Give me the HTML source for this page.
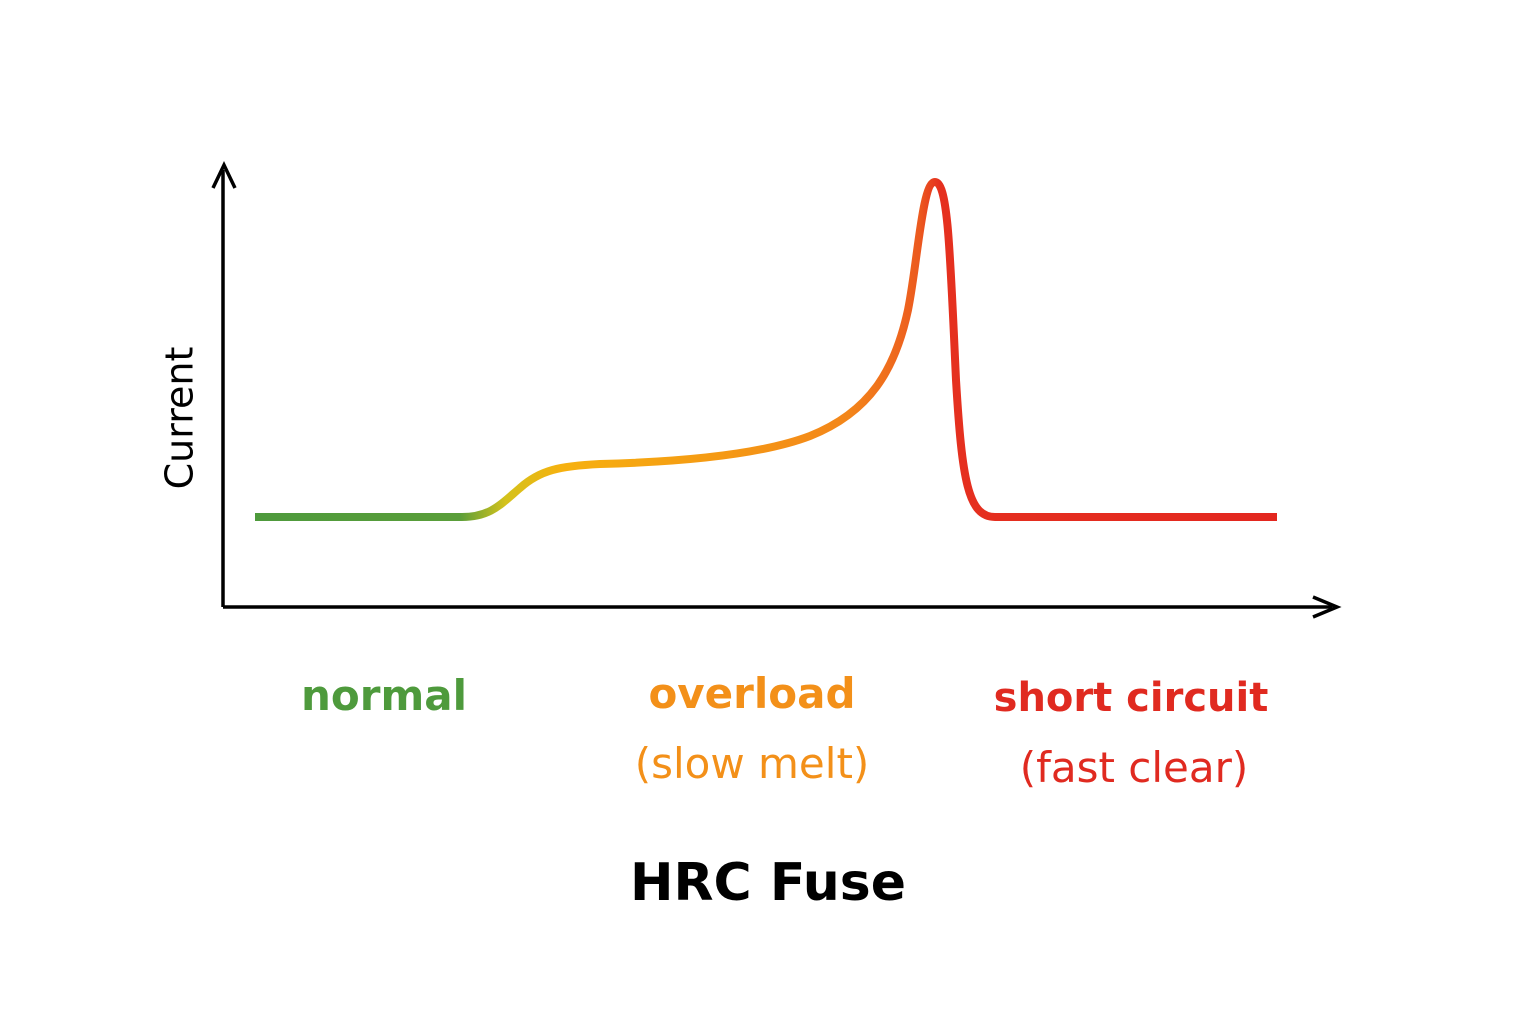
<!DOCTYPE html>
<html><head><meta charset="utf-8"><style>
html,body{margin:0;padding:0;background:#fff;}
svg{display:block}
text{font-family:"DejaVu Sans","Liberation Sans",sans-serif;}
</style></head><body>
<svg width="1536" height="1024" viewBox="0 0 1536 1024">
<defs>
<linearGradient id="g" gradientUnits="userSpaceOnUse" x1="255" y1="0" x2="1277" y2="0">
<stop offset="0" stop-color="#4e9a3c"/>
<stop offset="0.2" stop-color="#5a9e3a"/>
<stop offset="0.245" stop-color="#d4c21c"/>
<stop offset="0.3" stop-color="#f6b10f"/>
<stop offset="0.45" stop-color="#f59a14"/>
<stop offset="0.58" stop-color="#f3861a"/>
<stop offset="0.65" stop-color="#ec5a1f"/>
<stop offset="0.67" stop-color="#e5301f"/>
<stop offset="1" stop-color="#e3271f"/>
</linearGradient>
</defs>
<line x1="223" y1="607" x2="223" y2="170" stroke="#000" stroke-width="3.5"/>
<polyline points="213,188 224,165 235,188" fill="none" stroke="#000" stroke-width="3.5"/>
<line x1="223" y1="607" x2="1332" y2="607" stroke="#000" stroke-width="3.5"/>
<polyline points="1313,597 1337,607 1313,617" fill="none" stroke="#000" stroke-width="3.5"/>
<path d="M255,517 L462,517 C490,517 500,505 520,488 C540,470 560,466 600,464 C680,462 760,455 810,436 C870,412 895,370 908,310 C918,260 922,182 935,182 C948,182 950,250 956,380 C962,480 968,517 995,517 L1277,517" fill="none" stroke="url(#g)" stroke-width="8" stroke-linecap="butt" stroke-linejoin="round"/>
<text x="182" y="418" transform="rotate(-90 182 418)" text-anchor="middle" dominant-baseline="middle" font-size="38" fill="#000">Current</text>
<text x="384" y="710" text-anchor="middle" font-size="42" font-weight="bold" fill="#4e9a3c">normal</text>
<text x="752" y="708" text-anchor="middle" font-size="42" font-weight="bold" fill="#f39019">overload</text>
<text x="752" y="778" text-anchor="middle" font-size="42" fill="#f39019">(slow melt)</text>
<text x="1131" y="711" text-anchor="middle" font-size="40" font-weight="bold" fill="#e02a20">short circuit</text>
<text x="1134" y="782" text-anchor="middle" font-size="42" fill="#e02a20">(fast clear)</text>
<text x="768" y="900" text-anchor="middle" font-size="52" font-weight="bold" fill="#000">HRC Fuse</text>
</svg>
</body></html>
